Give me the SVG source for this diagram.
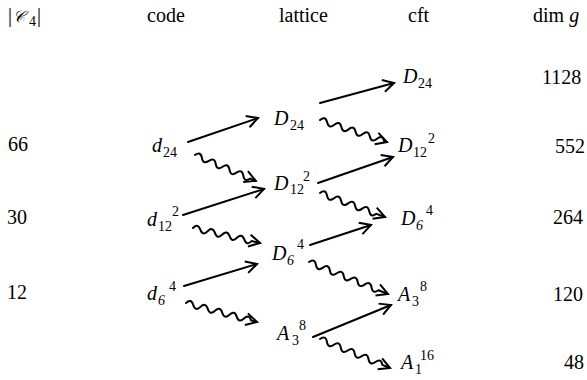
<svg xmlns="http://www.w3.org/2000/svg" width="587" height="380" viewBox="0 0 587 380">
<style>
text{font-family:'Liberation Serif','Times New Roman',serif;font-size:20px;fill:#000}
.i{font-style:italic}
.s{font-size:14px}
.sc{font-family:'DejaVu Serif','DejaVu Sans',serif;font-style:italic;font-size:16px}
.a{stroke:#000;stroke-width:2;fill:none;stroke-linecap:round}
</style>
<defs>
<marker id="h" viewBox="0 0 14 14" refX="12" refY="7" markerWidth="14" markerHeight="14" markerUnits="userSpaceOnUse" orient="auto">
<path d="M1,1 L12,7 L1,13" fill="none" stroke="#000" stroke-width="2"/>
</marker>
</defs>
<g id="header">
<text x="8" y="22">|</text>
<text class="sc" x="13" y="22">𝒞</text>
<text class="s" x="29" y="26">4</text>
<text x="37" y="22">|</text>
<text x="147" y="22">code</text>
<text x="279" y="22">lattice</text>
<text x="408" y="22">cft</text>
<text x="533" y="22">dim <tspan class="i">g</tspan></text>
</g>
<g id="c4">
<text x="8" y="151">66</text>
<text x="7" y="224">30</text>
<text x="7" y="299">12</text>
</g>
<g id="dimg">
<text x="542" y="84">1128</text>
<text x="555" y="153">552</text>
<text x="553" y="224">264</text>
<text x="553" y="301">120</text>
<text x="564" y="369">48</text>
</g>
<g id="code-d24">
<text class="i" x="152" y="152">d</text>
<text class="s" x="163" y="157">24</text>
</g>
<g id="code-d12">
<text class="i" x="147" y="226">d</text>
<text class="s" x="158" y="231">12</text>
<text class="s" x="172" y="216">2</text>
</g>
<g id="code-d6">
<text class="i" x="147" y="300">d</text>
<text class="s i" x="158" y="305">6</text>
<text class="s" x="169" y="291">4</text>
</g>
<g id="lat-D24">
<text class="i" x="274" y="125">D</text>
<text class="s" x="290" y="130">24</text>
</g>
<g id="lat-D12">
<text class="i" x="274" y="190">D</text>
<text class="s" x="290" y="194">12</text>
<text class="s" x="303" y="181">2</text>
</g>
<g id="lat-D6">
<text class="i" x="272" y="260">D</text>
<text class="s i" x="287" y="265">6</text>
<text class="s" x="297" y="249">4</text>
</g>
<g id="lat-A3">
<text class="i" x="277" y="340">A</text>
<text class="s" x="292" y="345">3</text>
<text class="s" x="299" y="330">8</text>
</g>
<g id="cft-D24">
<text class="i" x="403" y="83">D</text>
<text class="s" x="418" y="88">24</text>
</g>
<g id="cft-D12">
<text class="i" x="398" y="152">D</text>
<text class="s" x="413" y="157">12</text>
<text class="s" x="428" y="143">2</text>
</g>
<g id="cft-D6">
<text class="i" x="401" y="225">D</text>
<text class="s i" x="416" y="230">6</text>
<text class="s" x="426" y="215">4</text>
</g>
<g id="cft-A3">
<text class="i" x="398" y="301">A</text>
<text class="s" x="412" y="306">3</text>
<text class="s" x="420" y="291">8</text>
</g>
<g id="cft-A1">
<text class="i" x="401" y="369">A</text>
<text class="s" x="415" y="374">1</text>
<text class="s" x="420" y="360">16</text>
</g>
<g id="connectors">
<path class="a" marker-end="url(#h)" d="M188,142 L258,118"/>
<path class="a" marker-end="url(#h)" d="M320,103 L394,83"/>
<path class="a" marker-end="url(#h)" d="M183,215 L264,189"/>
<path class="a" marker-end="url(#h)" d="M318,183 L393,157"/>
<path class="a" marker-end="url(#h)" d="M184,286 L257,264"/>
<path class="a" marker-end="url(#h)" d="M310,245 L371,225"/>
<path class="a" marker-end="url(#h)" d="M313,337 L391,305"/>
<path class="a" marker-end="url(#h)" transform="translate(195,155) rotate(23.1)" d="M0,0 q3.75,-6 7.5,0 t7.5,0 t7.5,0 t7.5,0 t7.5,0 t7.5,0 t7.5,0 t7.5,0 l6,0"/>
<path class="a" marker-end="url(#h)" transform="translate(320,120) rotate(18.2)" d="M0,0 q3.75,-6 7.5,0 t7.5,0 t7.5,0 t7.5,0 t7.5,0 t7.5,0 t7.5,0 t7.5,0 t7.5,0 l3,0"/>
<path class="a" marker-end="url(#h)" transform="translate(193,228) rotate(12.6)" d="M0,0 q3.75,-6 7.5,0 t7.5,0 t7.5,0 t7.5,0 t7.5,0 t7.5,0 t7.5,0 t7.5,0 l8.7,0"/>
<path class="a" marker-end="url(#h)" transform="translate(320,193) rotate(20.3)" d="M0,0 q3.75,-6 7.5,0 t7.5,0 t7.5,0 t7.5,0 t7.5,0 t7.5,0 t7.5,0 t7.5,0 l9.3,0"/>
<path class="a" marker-end="url(#h)" transform="translate(186,303) rotate(15)" d="M0,0 q3.75,-6 7.5,0 t7.5,0 t7.5,0 t7.5,0 t7.5,0 t7.5,0 t7.5,0 t7.5,0 t7.5,0 l6,0"/>
<path class="a" marker-end="url(#h)" transform="translate(309,262) rotate(22.1)" d="M0,0 q3.75,-6 7.5,0 t7.5,0 t7.5,0 t7.5,0 t7.5,0 t7.5,0 t7.5,0 t7.5,0 t7.5,0 t7.5,0 l10.2,0"/>
<path class="a" marker-end="url(#h)" transform="translate(320,339) rotate(22.5)" d="M0,0 q3.75,-6 7.5,0 t7.5,0 t7.5,0 t7.5,0 t7.5,0 t7.5,0 t7.5,0 t7.5,0 t7.5,0 l8.3,0"/>
</g>
</svg>
